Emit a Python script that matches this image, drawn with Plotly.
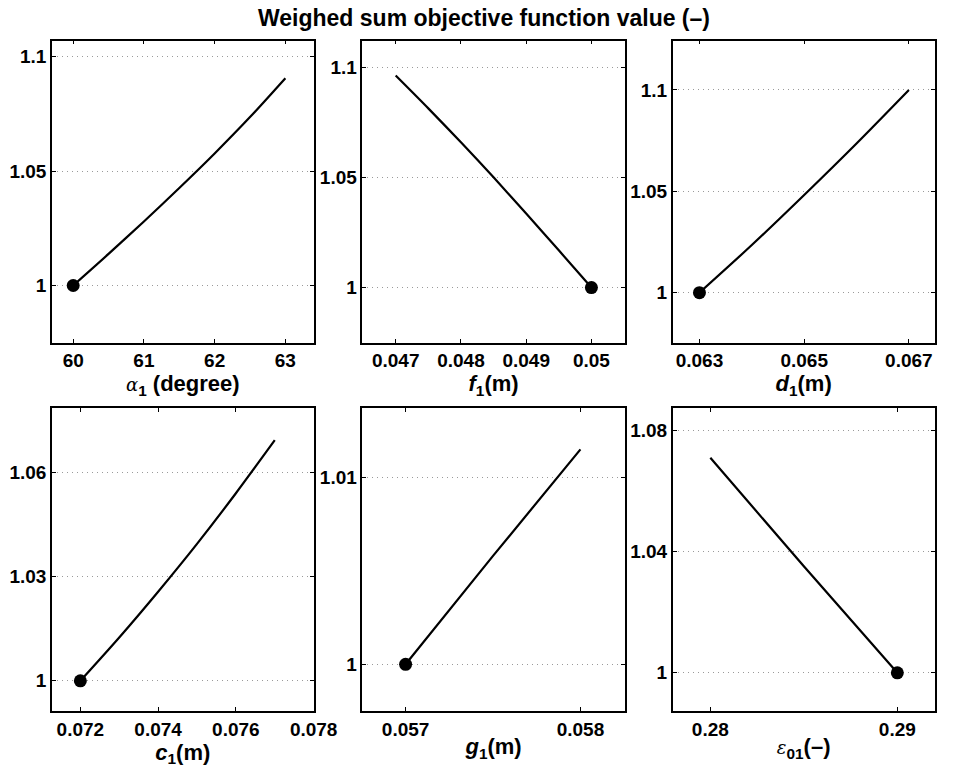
import plotly.graph_objects as go

# ---- data ----
alpha_vals = [60, 60.5, 61, 61.5, 62, 62.5, 63]
alpha_obj = [1.0, 1.0138, 1.0280, 1.0426, 1.0577, 1.0736, 1.0906]

f_vals = [0.047, 0.0475, 0.048, 0.0485, 0.049, 0.0495, 0.05]
f_obj = [1.0962, 1.0813, 1.0659, 1.0500, 1.0336, 1.0169, 1.0]

d_vals = [0.063, 0.064, 0.065, 0.066, 0.067]
d_obj = [1.0, 1.0235, 1.0482, 1.0736, 1.1]

c_vals = [0.072, 0.073, 0.074, 0.075, 0.076, 0.077]
c_obj = [1.0, 1.0125, 1.0257, 1.0395, 1.0541, 1.0694]

g_vals = [0.057, 0.0575, 0.058]
g_obj = [1.0, 1.0058, 1.0115]

eps_vals = [0.28, 0.285, 0.29]
eps_obj = [1.0709, 1.0351, 1.0]

opt_x = [60, 0.05, 0.063, 0.072, 0.057, 0.29]
opt_y = [1, 1, 1, 1, 1, 1]

x_ticks = [[60, 61, 62, 63], [0.047, 0.048, 0.049, 0.05], [0.063, 0.065, 0.067],
           [0.072, 0.074, 0.076, 0.078], [0.057, 0.058], [0.28, 0.29]]
x_ticktext = [["60", "61", "62", "63"], ["0.047", "0.048", "0.049", "0.05"],
              ["0.063", "0.065", "0.067"], ["0.072", "0.074", "0.076", "0.078"],
              ["0.057", "0.058"], ["0.28", "0.29"]]
y_ticks = [[1, 1.05, 1.1], [1, 1.05, 1.1], [1, 1.05, 1.1],
           [1, 1.03, 1.06], [1, 1.01], [1, 1.04, 1.08]]
y_ticktext = [["1", "1.05", "1.1"], ["1", "1.05", "1.1"], ["1", "1.05", "1.1"],
              ["1", "1.03", "1.06"], ["1", "1.01"], ["1", "1.04", "1.08"]]
x_ranges = [[59.7, 63.4], [0.04649, 0.05051], [0.06249, 0.06749],
            [0.07127, 0.078], [0.056753, 0.058253], [0.27799, 0.29199]]
y_ranges = [[0.975, 1.107], [0.975, 1.112], [0.9753, 1.1243],
            [0.9913, 1.0786], [0.9975, 1.0137], [0.9874, 1.0872]]

greek = ("<span style='font-weight:normal;font-family:\"DejaVu Serif\";font-size:18px'>"
         "<i>%s</i></span>")
x_titles = [greek % "α" + "<b><sub>1</sub> (degree)</b>",
            "<b><i>f</i><sub>1</sub>(m)</b>",
            "<b><i>d</i><sub>1</sub>(m)</b>",
            "<b><i>c</i><sub>1</sub>(m)</b>",
            "<b><i>g</i><sub>1</sub>(m)</b>",
            greek % "ε" + "<b><sub>01</sub>(–)</b>"]

series = [(alpha_vals, alpha_obj), (f_vals, f_obj), (d_vals, d_obj),
          (c_vals, c_obj), (g_vals, g_obj), (eps_vals, eps_obj)]

x_domains = [[53.3 / 960, 321.7 / 960], [371.7 / 960, 640.7 / 960], [690 / 960, 958.5 / 960]]
y_domains = [[1 - 342.7 / 776, 1 - 40.7 / 776], [1 - 711 / 776, 1 - 408.3 / 776]]

FONT = "Liberation Sans, Arial, Helvetica, sans-serif"

fig = go.Figure()
layout = dict(
    width=960, height=776, margin=dict(l=0, r=0, t=0, b=0),
    paper_bgcolor="white", plot_bgcolor="white", showlegend=False,
    font=dict(family=FONT, color="black", size=18),
)

for i, (xs, ys) in enumerate(series):
    n = i + 1
    xa = "x" if n == 1 else "x%d" % n
    ya = "y" if n == 1 else "y%d" % n
    fig.add_trace(go.Scatter(x=xs, y=ys, mode="lines", xaxis=xa, yaxis=ya,
                             line=dict(color="black", width=2.2, shape="spline", smoothing=0.8)))
    fig.add_trace(go.Scatter(x=[opt_x[i]], y=[opt_y[i]], mode="markers", xaxis=xa, yaxis=ya,
                             marker=dict(color="black", size=13)))
    row, col = divmod(i, 3)
    common = dict(showline=True, linecolor="black", linewidth=1.5, mirror="ticks",
                  ticks="inside", ticklen=4, tickwidth=1, tickcolor="black",
                  zeroline=False,
                  tickfont=dict(family=FONT, size=19, color="black"))
    layout["xaxis" if n == 1 else "xaxis%d" % n] = dict(
        common, domain=x_domains[col], anchor=ya, range=x_ranges[i],
        tickvals=x_ticks[i], ticktext=["<b>%s</b>" % t for t in x_ticktext[i]],
        showgrid=False,
        title=dict(text=x_titles[i], standoff=0,
                   font=dict(family=FONT, size=22, color="black")))
    layout["yaxis" if n == 1 else "yaxis%d" % n] = dict(
        common, domain=y_domains[row], anchor=xa, range=y_ranges[i],
        tickvals=y_ticks[i], ticktext=["<b>%s</b>" % t for t in y_ticktext[i]],
        showgrid=True, gridcolor="#9a9a9a", griddash="1px,4px", gridwidth=1)

layout["annotations"] = [dict(
    text="<b>Weighed sum objective function value (–)</b>", xref="paper", yref="paper",
    x=496 / 960, y=1 - 18 / 776, xanchor="center", yanchor="middle", showarrow=False,
    font=dict(family=FONT, size=23, color="black"))]

fig.update_layout(**layout)
fig.write_html("out.html")
